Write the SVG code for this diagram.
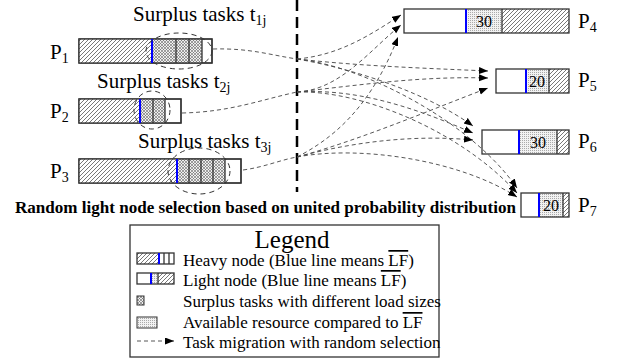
<svg xmlns="http://www.w3.org/2000/svg" width="618" height="362" viewBox="0 0 618 362">
<defs>
<pattern id="hatch" patternUnits="userSpaceOnUse" width="4" height="4">
<rect width="4" height="4" fill="#fff"/>
<path d="M-1,1 l2,-2 M0,4 l4,-4 M3,5 l2,-2" stroke="#555" stroke-width="0.8"/>
</pattern>
<pattern id="cross" patternUnits="userSpaceOnUse" width="3" height="3">
<rect width="3" height="3" fill="#eee"/>
<path d="M0,0 L3,3 M3,0 L0,3" stroke="#666" stroke-width="0.6"/>
</pattern>
<pattern id="dots" patternUnits="userSpaceOnUse" width="2" height="2">
<rect width="2" height="2" fill="#f2f2f2"/>
<rect x="0" y="0" width="1" height="1" fill="#aaa"/>
</pattern>
<marker id="arr" markerUnits="userSpaceOnUse" markerWidth="10" markerHeight="8" refX="9" refY="3.5" orient="auto">
<path d="M0,0 L9,3.5 L0,7 z" fill="#000"/>
</marker>
</defs>
<style>
text{font-family:'Liberation Serif','Times New Roman',Times,'DejaVu Serif',serif;fill:#000}
.bar{stroke:#333;stroke-width:1.3}
.seg{fill:none;stroke:#333;stroke-width:1.3}
.blue{stroke:#0000ff;stroke-width:2}
.ell{fill:none;stroke:#333;stroke-width:1;stroke-dasharray:5,4}
.con{fill:none;stroke:#444;stroke-width:0.9;stroke-dasharray:4,3}
.ov{text-decoration:overline}
</style>

<line x1="297" y1="0" x2="297" y2="192" stroke="#000" stroke-width="2.5" stroke-dasharray="11,6"/>

<g id="P1">
<rect class="bar" x="79" y="39" width="133" height="24" fill="#fff"/>
<rect x="79" y="39" width="73" height="24" fill="url(#hatch)"/>
<rect x="152" y="39" width="50" height="24" fill="url(#cross)"/>
<rect class="seg" x="79" y="39" width="133" height="24"/>
<path class="seg" d="M176,39 V63 M189,39 V63 M202,39 V63"/>
<line class="blue" x1="152" y1="39" x2="152" y2="63"/>
<ellipse class="ell" cx="179" cy="51" rx="33" ry="18"/>
<text x="50" y="59" font-size="21">P<tspan font-size="14" dy="4">1</tspan></text>
<text x="133" y="21" font-size="21">Surplus tasks t<tspan font-size="14" dy="4">1j</tspan></text>
</g>

<g id="P2">
<rect class="bar" x="79" y="99" width="102" height="24" fill="#fff"/>
<rect x="79" y="99" width="61" height="24" fill="url(#hatch)"/>
<rect x="140" y="99" width="25" height="24" fill="url(#cross)"/>
<rect class="seg" x="79" y="99" width="102" height="24"/>
<path class="seg" d="M153,99 V123 M165,99 V123"/>
<line class="blue" x1="140" y1="99" x2="140" y2="123"/>
<ellipse class="ell" cx="152" cy="110" rx="18" ry="19"/>
<text x="50" y="118" font-size="21">P<tspan font-size="14" dy="4">2</tspan></text>
<text x="97" y="88" font-size="21">Surplus tasks t<tspan font-size="14" dy="4">2j</tspan></text>
</g>

<g id="P3">
<rect class="bar" x="79" y="159" width="162" height="24" fill="#fff"/>
<rect x="79" y="159" width="98" height="24" fill="url(#hatch)"/>
<rect x="177" y="159" width="48" height="24" fill="url(#cross)"/>
<rect class="seg" x="79" y="159" width="162" height="24"/>
<path class="seg" d="M189,159 V183 M201,159 V183 M213,159 V183 M225,159 V183"/>
<line class="blue" x1="177" y1="159" x2="177" y2="183"/>
<ellipse class="ell" cx="199" cy="171" rx="31" ry="23"/>
<text x="50" y="178" font-size="21">P<tspan font-size="14" dy="4">3</tspan></text>
<text x="138" y="148" font-size="21">Surplus tasks t<tspan font-size="14" dy="4">3j</tspan></text>
</g>

<g id="P4">
<rect x="404" y="9" width="165" height="24" fill="#fff"/>
<rect x="466" y="9" width="36" height="24" fill="url(#dots)"/>
<rect x="502" y="9" width="67" height="24" fill="url(#hatch)"/>
<rect class="seg" x="404" y="9" width="165" height="24"/>
<line class="seg" x1="502" y1="9" x2="502" y2="33"/>
<line class="blue" x1="466" y1="9" x2="466" y2="33"/>
<text x="484" y="27" font-size="16" text-anchor="middle">30</text>
<text x="578" y="28" font-size="21">P<tspan font-size="14" dy="4">4</tspan></text>
</g>

<g id="P5">
<rect x="496" y="69" width="73" height="24" fill="#fff"/>
<rect x="526" y="69" width="23" height="24" fill="url(#dots)"/>
<rect x="549" y="69" width="20" height="24" fill="url(#hatch)"/>
<rect class="seg" x="496" y="69" width="73" height="24"/>
<line class="seg" x1="549" y1="69" x2="549" y2="93"/>
<line class="blue" x1="526" y1="69" x2="526" y2="93"/>
<text x="537" y="87" font-size="16" text-anchor="middle">20</text>
<text x="578" y="87" font-size="21">P<tspan font-size="14" dy="4">5</tspan></text>
</g>

<g id="P6">
<rect x="482" y="130" width="87" height="24" fill="#fff"/>
<rect x="519" y="130" width="38" height="24" fill="url(#dots)"/>
<rect x="557" y="130" width="12" height="24" fill="url(#hatch)"/>
<rect class="seg" x="482" y="130" width="87" height="24"/>
<line class="seg" x1="557" y1="130" x2="557" y2="154"/>
<line class="blue" x1="519" y1="130" x2="519" y2="154"/>
<text x="538" y="148" font-size="16" text-anchor="middle">30</text>
<text x="578" y="148" font-size="21">P<tspan font-size="14" dy="4">6</tspan></text>
</g>

<g id="P7">
<rect x="521" y="193" width="48" height="24" fill="#fff"/>
<rect x="539" y="193" width="24" height="24" fill="url(#dots)"/>
<rect x="563" y="193" width="6" height="24" fill="url(#hatch)"/>
<rect class="seg" x="521" y="193" width="48" height="24"/>
<line class="seg" x1="563" y1="193" x2="563" y2="217"/>
<line class="blue" x1="539" y1="193" x2="539" y2="217"/>
<text x="551" y="211" font-size="16" text-anchor="middle">20</text>
<text x="578" y="212" font-size="21">P<tspan font-size="14" dy="4">7</tspan></text>
</g>

<g id="connectors">
<path class="con" d="M213,49 C250,48 270,55 297,59"/>
<path class="con" d="M182,113 C230,112 260,100 297,92"/>
<path class="con" d="M243,170 C265,167 280,160 297,157"/>
<path class="con" marker-end="url(#arr)" d="M297,59 C340,55 370,35 401,15"/>
<path class="con" marker-end="url(#arr)" d="M297,59 C360,66 420,68 488,71"/>
<path class="con" marker-end="url(#arr)" d="M297,59 C360,70 430,95 473,126"/>
<path class="con" marker-end="url(#arr)" d="M297,59 C360,65 470,120 517,188"/>
<path class="con" marker-end="url(#arr)" d="M297,92 C340,90 370,50 401,25"/>
<path class="con" marker-end="url(#arr)" d="M297,92 C360,85 420,76 488,78"/>
<path class="con" marker-end="url(#arr)" d="M297,92 C360,88 420,110 473,133"/>
<path class="con" marker-end="url(#arr)" d="M297,92 C360,90 460,130 517,193"/>
<path class="con" marker-end="url(#arr)" d="M297,157 C330,140 370,110 398,37"/>
<path class="con" marker-end="url(#arr)" d="M297,157 C360,140 430,110 488,88"/>
<path class="con" marker-end="url(#arr)" d="M297,157 C360,140 420,135 473,140"/>
<path class="con" marker-end="url(#arr)" d="M297,157 C360,145 460,160 517,197"/>
</g>

<text x="15" y="213" font-size="16" font-weight="bold" textLength="501" lengthAdjust="spacingAndGlyphs">Random light node selection based on united probability distribution</text>

<g id="legend">
<rect x="130" y="225" width="309" height="132" fill="#fff" stroke="#333" stroke-width="1.3"/>
<text x="292" y="248" font-size="25" text-anchor="middle">Legend</text>
<rect x="137" y="253" width="22" height="11" fill="url(#hatch)"/>
<rect class="seg" x="137" y="253" width="37" height="11" stroke-width="1"/>
<path class="seg" stroke-width="1" d="M164,253 V264 M169,253 V264"/>
<line class="blue" x1="159" y1="253" x2="159" y2="264"/>
<text x="183" y="266" font-size="17">Heavy node (Blue line means <tspan class="ov">LF</tspan>)</text>

<rect x="151" y="273" width="7" height="11" fill="url(#dots)"/>
<rect x="158" y="273" width="16" height="11" fill="url(#hatch)"/>
<rect class="seg" x="137" y="273" width="37" height="11" stroke-width="1"/>
<line class="seg" stroke-width="1" x1="158" y1="273" x2="158" y2="284"/>
<line class="blue" x1="151" y1="273" x2="151" y2="284"/>
<text x="183" y="286" font-size="17">Light node (Blue line means <tspan class="ov">LF</tspan>)</text>

<rect x="137" y="296" width="7" height="9" fill="url(#cross)" stroke="#333" stroke-width="1"/>
<text x="183" y="307" font-size="17">Surplus tasks with different load sizes</text>

<rect x="137" y="317" width="20" height="11" fill="url(#dots)" stroke="#333" stroke-width="1"/>
<text x="183" y="328" font-size="17">Available resource compared to <tspan class="ov">LF</tspan></text>

<line class="con" x1="137" y1="341" x2="174" y2="341" marker-end="url(#arr)"/>
<text x="183" y="348" font-size="17">Task migration with random selection</text>
</g>
</svg>
